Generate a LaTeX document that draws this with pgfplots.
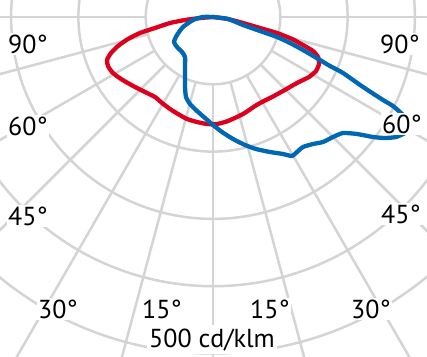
\documentclass[border=0pt]{standalone}
\usepackage{pgfplots}
\pgfplotsset{compat=1.18}
\usepackage{pgfplotstable}
\usepackage{fontspec}
\setmainfont{PT Sans}
\definecolor{gridc}{RGB}{212,212,212}
\definecolor{ldcred}{RGB}{220,0,30}
\definecolor{ldcblue}{RGB}{0,103,178}

% image coordinates (x right, y down), centre of the diagram at (213,17)
\pgfplotstableread{
x y
213 17
200 18
185 20
170 23
155 28
140 33
128 39
118 46
111 53
107 60
108 66
112 72
118 77
126 82
135 87
145 92
155 97
162 103
170 109
178 114
187 119
197 122
207 124
217 124
228 121
243 114
255 106
262 102
272 97
283 91
297 83
309 77
316 71
319 64
318 57
313 51
303 45
292 39
277 33
260 28
243 23
228 19
213 17
}\redcurve

\pgfplotstableread{
x y
213 17
203 17
193 20
183 27
177 35
174 42
177 47
182 52
185 57
185 67
185 77
185 87
186 97
190 104
197 111
205 118
213 125
222 132
233 139
245 145
256 149
270 152
283 154
292 156
297 152
303 147
313 144
323 142
333 137
343 133
357 134
373 137
385 138
396 137
405 133
410 128
408 121
402 114
393 106
383 100
363 87
343 73
330 66
320 60
303 50
290 43
277 37
260 31
243 25
228 19
213 17
}\bluecurve

\begin{document}
\begin{tikzpicture}
\begin{axis}[
  scale only axis,
  width=427pt, height=356pt,
  xmin=0, xmax=427, ymin=0, ymax=356,
  y dir=reverse,
  axis lines=none,
  clip=true,
]
% rings
\pgfplotsinvokeforeach{67.3,134.6,201.9,269.2,336.5,403.8}{
  \draw[gridc, line width=2.5pt] (axis cs:213,17) circle[radius=#1pt];
}
% radial lines
\pgfplotsinvokeforeach{-90,-75,-60,-45,-30,-15,0,15,30,45,60,75,90}{
  \draw[gridc, line width=2.5pt]
    (axis cs:{213+67.3*sin(#1)},{17+67.3*cos(#1)}) --
    (axis cs:{213+520*sin(#1)},{17+520*cos(#1)});
}
\addplot[ldcred, line width=4.3pt, line join=round, smooth, tension=0.35] table[x=x,y=y] {\redcurve};
\addplot[ldcblue, line width=4.3pt, line join=round, smooth, tension=0.35] table[x=x,y=y] {\bluecurve};

\tikzset{lab/.style={fill=white, inner xsep=1pt, inner ysep=1.5pt, anchor=base west, font=\fontsize{26}{30}\selectfont}}
\node[lab] at (axis cs:7,53) {90°};
\node[lab] at (axis cs:379,53) {90°};
\node[lab] at (axis cs:7,135) {60°};
\node[lab] at (axis cs:381,133) {60°};
\node[lab] at (axis cs:7,225) {45°};
\node[lab] at (axis cs:380,223) {45°};
\node[lab] at (axis cs:37,318) {30°};
\node[lab] at (axis cs:141,318) {15°};
\node[lab] at (axis cs:249,318) {15°};
\node[lab] at (axis cs:350,318) {30°};
\node[lab, inner xsep=2pt, inner ysep=3pt] at (axis cs:147,347) {500 cd/klm};
\end{axis}
\pgfresetboundingbox
\path (current axis.south west) rectangle (current axis.north east);
\end{tikzpicture}
\end{document}
